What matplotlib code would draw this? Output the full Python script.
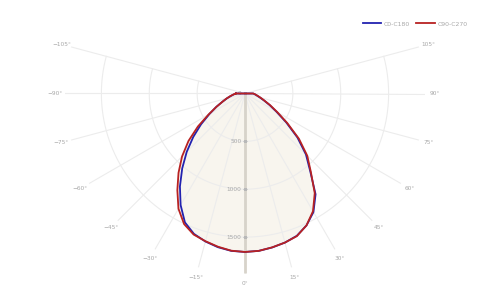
#
# Polar light distribution curve (C0-C180 / C90-C270)
#
import matplotlib.pyplot as plt
import numpy as np

angles = [0, 5, 10, 15, 20, 25, 30, 35, 40, 45, 50, 55, 60, 65, 70, 75, 80, 85, 90]  # gamma [deg]

# C0-C180 (blue): C0 on the positive side, C180 on the negative side
c0 = [1655, 1650, 1633, 1612, 1582, 1520, 1430, 1285, 1060, 900, 715, 525, 378, 282, 210, 160, 128, 105, 85]
c180 = [1655, 1650, 1630, 1600, 1560, 1485, 1345, 1185, 1020, 860, 705, 560, 430, 330, 250, 195, 152, 120, 95]
# C90-C270 (red): C90 on the positive side, C270 on the negative side
c90 = [1655, 1650, 1632, 1612, 1585, 1520, 1420, 1270, 1070, 920, 735, 540, 390, 290, 215, 168, 132, 107, 86]
c270 = [1655, 1648, 1625, 1597, 1568, 1505, 1390, 1232, 1080, 930, 770, 600, 440, 330, 250, 198, 155, 122, 96]

r_ticks = [500, 1000, 1500]
r_max = 1880
theta_ticks = list(range(-105, 106, 15))
theta_labels = [('\u2212%d°' % -t) if t < 0 else '%d°' % t for t in theta_ticks]

legend_names = ['C0-C180', 'C90-C270']
colors = ['#2222b0', '#b82222']
grid_c = '#ececec'
text_c = '#a8a8a8'

def full_curve(pos, neg):
    # -90..90 and closed back to the first point
    a = np.array(angles, dtype=float)
    th = np.concatenate([-a[::-1], a[1:], [-a[-1]]])
    r = np.concatenate([np.array(neg)[::-1], np.array(pos)[1:], [neg[-1]]])
    return np.radians(th), r

W, H = 490, 306
cx, cy, R = 245, 93.5, 180  # centre and radius in pixels (from top)

fig = plt.figure(figsize=(4.9, 3.06), dpi=100)
ax = fig.add_axes([(cx - R)/W, (H - cy - R)/H, 2*R/W, 2*R/H], projection='polar')
ax.set_theta_zero_location('S')
ax.set_theta_direction(1)
ax.set_rlim(0, r_max)
ax.grid(False)
ax.set_xticks([])
ax.set_yticks([])
ax.patch.set_visible(False)
for s in ax.spines.values():
    s.set_visible(False)

# grid: rays and arcs only over the -105..105 sector
arc = np.radians(np.linspace(-105, 105, 211))
for v in r_ticks:
    ax.plot(arc, np.full_like(arc, v), color=grid_c, lw=0.8, zorder=0.5)
for t in theta_ticks:
    ax.plot([np.radians(t)] * 2, [0, r_max], color=grid_c, lw=0.8, zorder=0.5)

# fill
for pos, neg in [(c0, c180), (c90, c270)]:
    th, r = full_curve(pos, neg)
    ax.fill(th, r, color='#f8f5ee', zorder=0.3, lw=0)

# radial axis line, ticks and labels
ax.plot([0, 0], [0, r_max], color='#d7d3ca', lw=2, zorder=1)
for v in r_ticks + [0]:
    ax.annotate(str(v), (0, v), xytext=(-2.5, 0), textcoords='offset points',
                ha='right', va='center', fontsize=4.2, color=text_c)
    ax.plot([0], [v], marker='_', ms=3.5, mew=0.8, color='#b8b8b8', zorder=1.2)

# angular labels
for t, lab in zip(theta_ticks, theta_labels):
    ax.text(np.radians(t), r_max * 190 / R, lab, ha='center', va='center',
            fontsize=4.2, color=text_c)

lines = []
for (pos, neg), c in zip([(c0, c180), (c90, c270)], colors):
    th, r = full_curve(pos, neg)
    ln, = ax.plot(th, r, color=c, lw=1.3, zorder=3, solid_joinstyle='round')
    lines.append(ln)

fig.legend(lines, legend_names, loc='center right', bbox_to_anchor=(0.966, 1 - 24/H),
           ncol=2, frameon=False, fontsize=4.4, labelcolor=text_c,
           handlelength=3.0, columnspacing=1.0, handletextpad=0.5)

fig.savefig('out.png', dpi=100)
